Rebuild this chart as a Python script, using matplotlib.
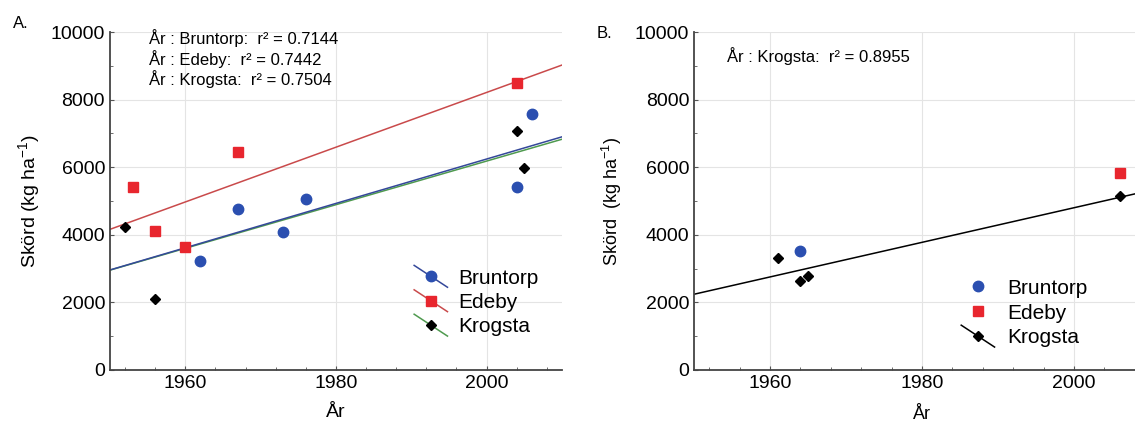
import numpy
import matplotlib
matplotlib.use("Agg")
import matplotlib.pyplot as plt
from matplotlib.lines import Line2D
from matplotlib.legend_handler import HandlerLine2D
from matplotlib.ticker import MultipleLocator

plt.rcParams['font.family'] = ['Liberation Sans', 'DejaVu Sans']
plt.rcParams['mathtext.fontset'] = 'custom'
plt.rcParams['mathtext.rm'] = 'Liberation Sans'
plt.rcParams['mathtext.it'] = 'Liberation Sans'

# panel A: all fields
bruntorp_a_year = [1962, 1967, 1973, 1976, 2004, 2006]
bruntorp_a_yield = [3230, 4750, 4080, 5050, 5420, 7570]
edeby_a_year = [1953, 1956, 1960, 1967, 2004]
edeby_a_yield = [5400, 4100, 3650, 6450, 8500]
krogsta_a_year = [1952, 1956, 2004, 2005]
krogsta_a_yield = [4220, 2100, 7080, 5970]

# panel B
bruntorp_b_year = [1964]
bruntorp_b_yield = [3530]
edeby_b_year = [2006]
edeby_b_yield = [5830]
krogsta_b_year = [1961, 1964, 1965, 2006]
krogsta_b_yield = [3320, 2620, 2790, 5150]

names = ["Bruntorp", "Edeby", "Krogsta"]
r2_a = ["0.7144", "0.7442", "0.7504"]
r2_b = "0.8955"

blue = '#2b4fb0'
red = '#e8262e'
black = '#000000'
blue_line = '#34489a'
red_line = '#c94a4b'
green_line = '#4f9a4f'


class DiagonalHandler(HandlerLine2D):
    # legend key drawn as a slanted line with the marker in the middle
    def create_artists(self, legend, orig_handle, xdescent, ydescent,
                       width, height, fontsize, trans):
        x = [-xdescent, -xdescent + width]
        y = [height * 1.25 - ydescent, -height * 0.25 - ydescent]
        line = Line2D(x, y)
        self.update_prop(line, orig_handle, legend)
        line.set_marker('')
        mark = Line2D([numpy.mean(x)], [numpy.mean(y)])
        self.update_prop(mark, orig_handle, legend)
        mark.set_linestyle('None')
        line.set_transform(trans)
        mark.set_transform(trans)
        return [line, mark]


def fit_line(ax, years, values, color):
    k, m = numpy.polyfit(years, values, 1)
    xs = numpy.array([1950, 2010])
    ax.plot(xs, k * xs + m, color=color, lw=1.1, zorder=2)


def style_axes(ax):
    ax.set_xlim(1950, 2010)
    ax.set_ylim(0, 10000)
    ax.xaxis.set_major_locator(MultipleLocator(20))
    ax.xaxis.set_minor_locator(MultipleLocator(4))
    ax.yaxis.set_major_locator(MultipleLocator(2000))
    ax.yaxis.set_minor_locator(MultipleLocator(1000))
    ax.grid(True, which='major', color='#e4e4e4', lw=0.8)
    ax.set_axisbelow(True)
    for s in ['top', 'right']:
        ax.spines[s].set_visible(False)
    for s in ['left', 'bottom']:
        ax.spines[s].set_color('#444444')
        ax.spines[s].set_linewidth(1.3)
    ax.tick_params(which='both', direction='in', color='#555555', labelsize=14)
    ax.tick_params(which='major', length=3)
    ax.tick_params(which='minor', length=2)


fig = plt.figure(figsize=(11.35, 4.23), dpi=100)
ax1 = fig.add_axes([0.0969, 0.1253, 0.3982, 0.799])
ax2 = fig.add_axes([0.6115, 0.1253, 0.4017, 0.799])

# --- A ---
style_axes(ax1)
fit_line(ax1, edeby_a_year, edeby_a_yield, red_line)
fit_line(ax1, krogsta_a_year, krogsta_a_yield, green_line)
fit_line(ax1, bruntorp_a_year, bruntorp_a_yield, blue_line)
ax1.plot(bruntorp_a_year, bruntorp_a_yield, 'o', color=blue, ms=7.5, zorder=3)
ax1.plot(edeby_a_year, edeby_a_yield, 's', color=red, ms=7, zorder=3)
ax1.plot(krogsta_a_year, krogsta_a_yield, 'D', color=black, ms=5, zorder=3)
ax1.set_xlabel("År", fontsize=14, labelpad=9)
ax1.set_ylabel("Skörd (kg ha$^{\\mathrm{-1}}$)", fontsize=14, labelpad=6)
txt = "\n".join("År : %s:  r² = %s" % (n, r) for n, r in zip(names, r2_a))
ax1.text(0.086, 1.01, txt, transform=ax1.transAxes, fontsize=12,
         va='top', ha='left', linespacing=1.2)
handles_a = [
    Line2D([], [], color=blue_line, marker='o', mfc=blue, mec=blue, ms=7.5, lw=1.1),
    Line2D([], [], color=red_line, marker='s', mfc=red, mec=red, ms=7, lw=1.1),
    Line2D([], [], color=green_line, marker='D', mfc=black, mec=black, ms=5, lw=1.1),
]
ax1.legend(handles_a, names, loc='upper left', bbox_to_anchor=(0.673, 0.3),
           frameon=False, fontsize=15, handlelength=1.6, handletextpad=0.5,
           labelspacing=0.26, borderpad=0, borderaxespad=0,
           handler_map={Line2D: DiagonalHandler()})
fig.text(0.011, 0.945, "A.", fontsize=12, va='center')

# --- B ---
style_axes(ax2)
fit_line(ax2, krogsta_b_year, krogsta_b_yield, black)
ax2.plot(bruntorp_b_year, bruntorp_b_yield, 'o', color=blue, ms=7.5, zorder=3)
ax2.plot(edeby_b_year, edeby_b_yield, 's', color=red, ms=7, zorder=3)
ax2.plot(krogsta_b_year, krogsta_b_yield, 'D', color=black, ms=5, zorder=3)
ax2.set_xlabel("År", fontsize=13, labelpad=10)
ax2.set_ylabel("Skörd  (kg ha$^{\\mathrm{-1}}$)", fontsize=13, labelpad=8)
ax2.text(0.072, 0.93, "År : Krogsta:  r² = %s" % r2_b, transform=ax2.transAxes,
         fontsize=12, va='center', ha='left')
handles_b = [
    Line2D([], [], ls='None', marker='o', mfc=blue, mec=blue, ms=7.5),
    Line2D([], [], ls='None', marker='s', mfc=red, mec=red, ms=7),
    Line2D([], [], color=black, marker='D', mfc=black, mec=black, ms=5, lw=1.1),
]
ax2.legend(handles_b, names, loc='upper left', bbox_to_anchor=(0.586, 0.27),
           frameon=False, fontsize=15, handlelength=1.6, handletextpad=0.6,
           labelspacing=0.28, borderpad=0, borderaxespad=0,
           handler_map={Line2D: DiagonalHandler()})
fig.text(0.526, 0.92, "B.", fontsize=12, va='center')

fig.savefig("out.png", dpi=100)
